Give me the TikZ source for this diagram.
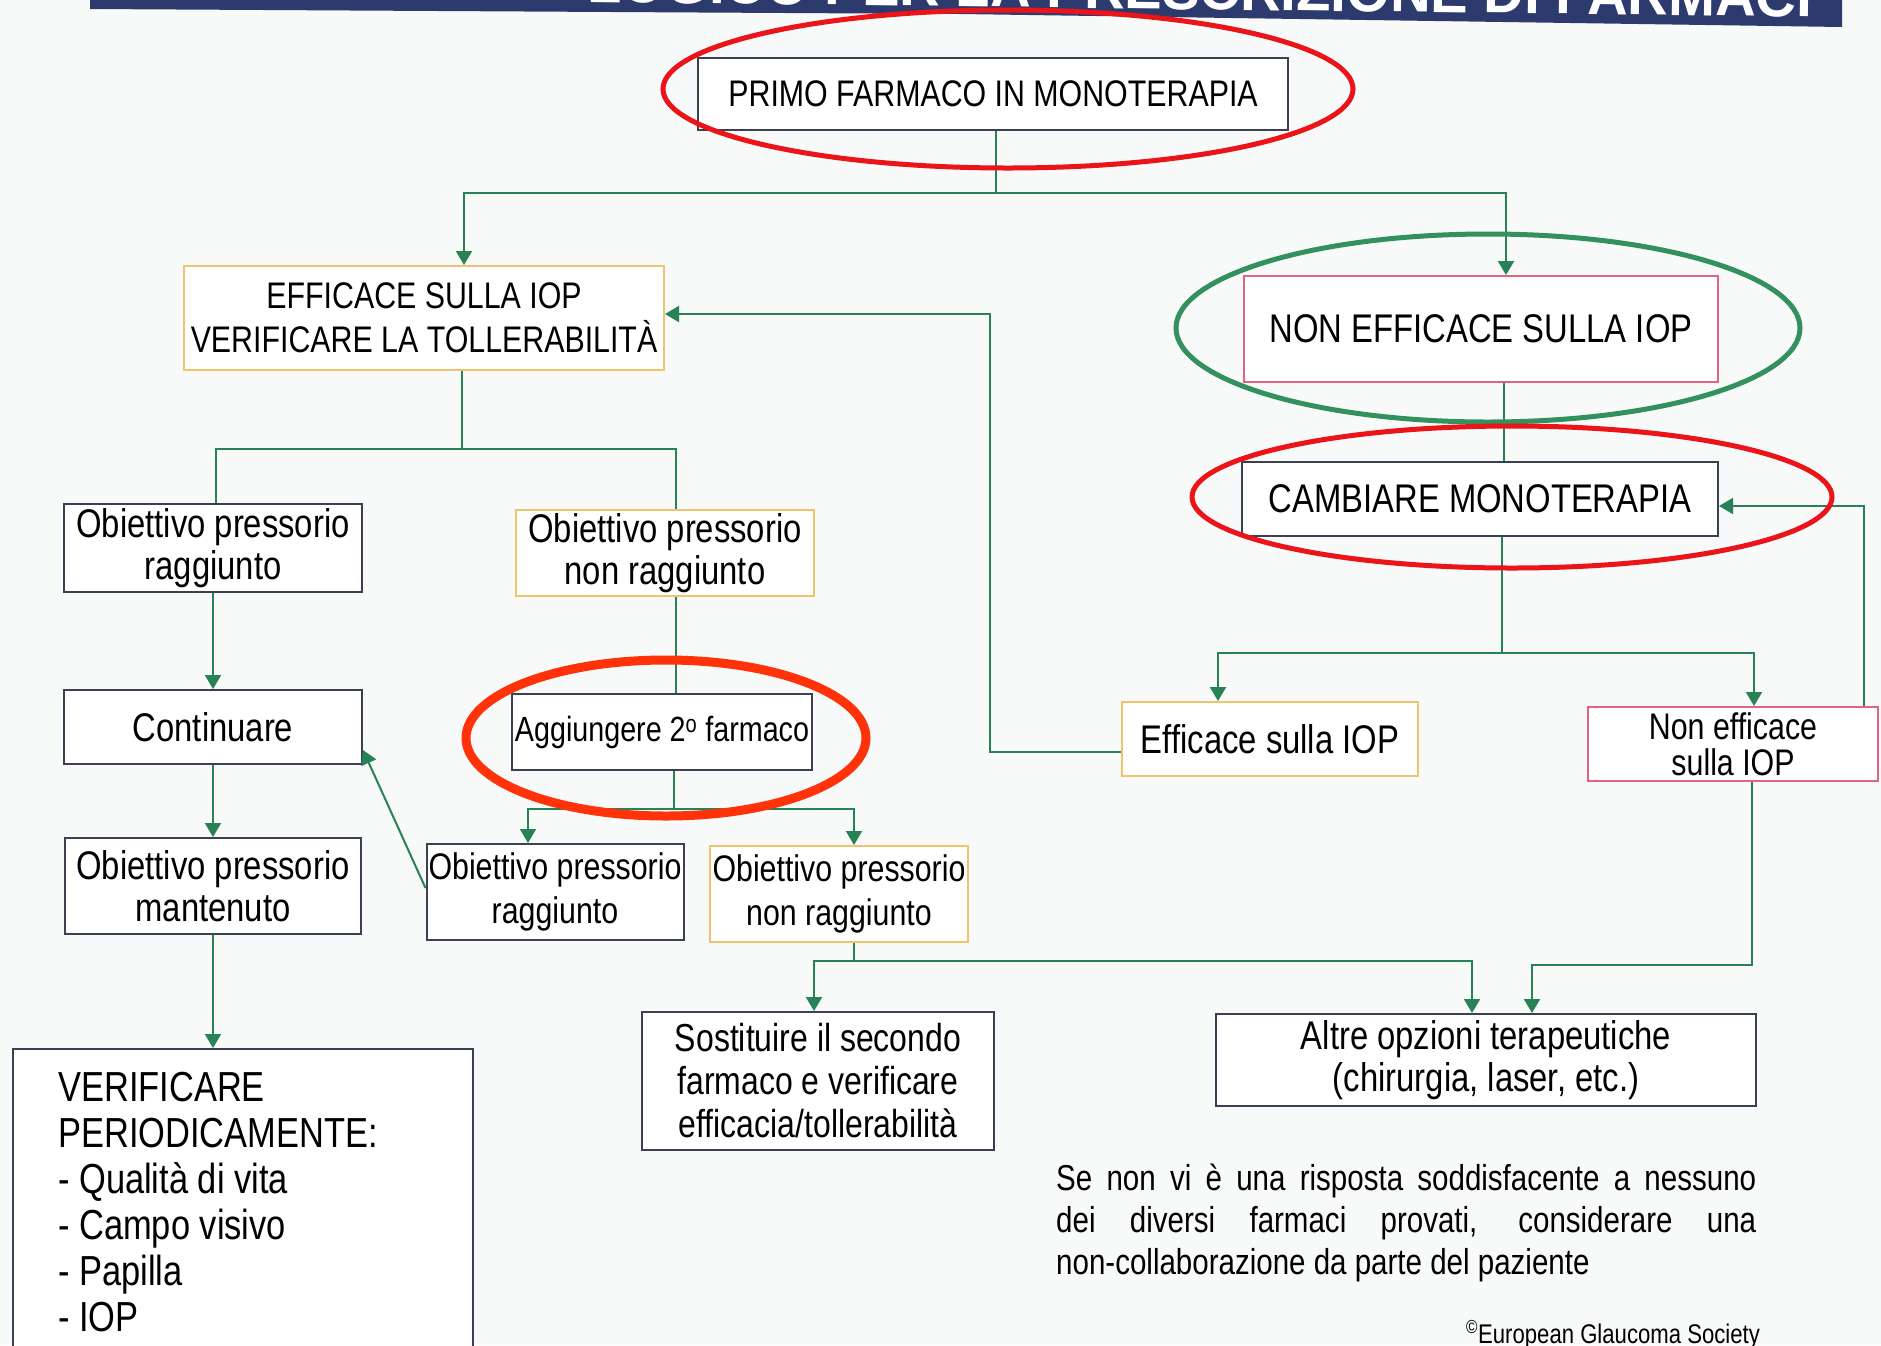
\documentclass[tikz,border=0pt]{standalone}
\usepackage{graphicx}
\usepackage{fontspec}
\setmainfont[FakeStretch=0.82]{Liberation Sans}
\usetikzlibrary{arrows.meta,calc}
\definecolor{bgc}{RGB}{247,250,248}
\definecolor{connc}{RGB}{40,130,85}
\definecolor{boxd}{RGB}{60,64,82}
\definecolor{boxo}{RGB}{240,196,110}
\definecolor{boxp}{RGB}{226,100,130}
\definecolor{ered}{RGB}{235,20,25}
\definecolor{egreen}{RGB}{50,145,95}
\definecolor{eorange}{RGB}{255,50,10}
\definecolor{bannerc}{RGB}{45,58,110}
\newcommand\fsz[2]{\fontsize{#1}{#2}\selectfont}
\begin{document}
\begin{tikzpicture}[x=1pt,y=-1pt,
  bx/.style={draw=boxd,line width=2pt,fill=white,inner sep=0pt,align=center,font=\fsz{40}{42}},
  bxo/.style={bx,draw=boxo},
  bxp/.style={bx,draw=boxp},
  ln/.style={draw=connc,line width=2pt},
  ar/.style={ln,-{Triangle[width=16pt,length=14pt]}},
  ov/.style={line width=5pt}]

\fill[bgc] (0,0) rectangle (1881,1345);
\useasboundingbox (0,0) rectangle (1881,1345);

% banner
\fill[bannerc] (90,0) -- (1842,0) -- (1842,27) -- (960,14) -- (90,9) -- cycle;
\begin{scope}
  \clip (90,0) -- (1842,0) -- (1842,27) -- (960,14) -- (90,9) -- cycle;
  \node[anchor=base east,inner sep=0pt,text=white,rotate=-0.7] (title) at (1812,17)
    {\resizebox{1224pt}{40pt}{\bfseries LOGICO PER LA PRESCRIZIONE DI FARMACI}};
\end{scope}

% boxes
\node[bx,minimum width=590,minimum height=72,font=\fsz{37}{42}] (primo) at (993,94) {PRIMO FARMACO IN MONOTERAPIA};
\node[bxo,minimum width=480,minimum height=104,font=\fsz{37}{44}] (effA) at (424,318) {EFFICACE SULLA IOP\\VERIFICARE LA TOLLERABILIT\`A};
\node[bxp,minimum width=474,minimum height=106] (nonA) at (1481,329) {NON EFFICACE SULLA IOP};
\node[bx,minimum width=476,minimum height=74] (camb) at (1480,499) {CAMBIARE MONOTERAPIA};

\node[bx,minimum width=298,minimum height=88] (r1) at (213,548) {Obiettivo pressorio\\raggiunto};
\node[bxo,minimum width=298,minimum height=86] (nr1) at (665,553) {Obiettivo pressorio\\non raggiunto};
\node[bx,minimum width=298,minimum height=74] (cont) at (213,727) {Continuare};
\node[bx,minimum width=300,minimum height=76,font=\fsz{35}{40}] (aggi) at (662,732) {Aggiungere 2\textsuperscript{o} farmaco};
\node[bxo,minimum width=296,minimum height=74] (effB) at (1270,739) {Efficace sulla IOP};
\node[bxp,minimum width=290,minimum height=74,font=\fsz{37}{36}] (nonB) at (1733,744) {Non efficace\\sulla IOP};

\node[bx,minimum width=296,minimum height=96] (mant) at (213,886) {Obiettivo pressorio\\mantenuto};
\node[bx,minimum width=257,minimum height=96,font=\fsz{37}{44}] (r2) at (555,892) {Obiettivo pressorio\\raggiunto};
\node[bxo,minimum width=258,minimum height=96,font=\fsz{37}{44}] (nr2) at (839,894) {Obiettivo pressorio\\non raggiunto};
\node[bx,minimum width=352,minimum height=138,font=\fsz{39}{43}] (sost) at (818,1081) {Sostituire il secondo\\farmaco e verificare\\efficacia/tollerabilit\`a};
\node[bx,minimum width=540,minimum height=92] (altre) at (1486,1060) {Altre opzioni terapeutiche\\(chirurgia, laser, etc.)};

\node[bx,minimum width=460,minimum height=320,anchor=north west] (verif) at (12,1048) {};
\node[anchor=north west,inner sep=0pt,align=left,font=\fsz{42}{46}] (veriftxt) at (58,1072)
  {VERIFICARE\\PERIODICAMENTE:\\- Qualit\`a di vita\\- Campo visivo\\- Papilla\\- IOP};

\node[anchor=north west,inner sep=0pt,align=left,font=\fsz{36}{42}] (note) at (1056,1164)
  {\makebox[700pt][s]{Se non vi \`e una risposta soddisfacente a nessuno}\\
   \makebox[700pt][s]{dei diversi farmaci provati, considerare una}\\
   non-collaborazione da parte del paziente};

\node[anchor=base west,inner sep=0pt,font=\fsz{27}{29}] (copy) at (1466,1343) {\textsuperscript{\textcopyright}European Glaucoma Society};

% connectors
\draw[ln] ([xshift=3]primo.south) -- ++(0,62) coordinate (j1);
\draw[ar] (j1) -| ([xshift=40]effA.north);
\draw[ar] (j1) -| ([xshift=25]nonA.north);

\draw[ln] ([xshift=38]effA.south) -- ++(0,78) coordinate (j2);
\draw[ln] (j2) -| ([xshift=3]r1.north);
\draw[ln] (j2) -| ([xshift=11]nr1.north);

\draw[ar] (r1.south) -- (cont.north);
\draw[ar] (cont.south) -- (mant.north);
\draw[ar] (mant.south) -- (mant.south |- verif.north);

\draw[ln] ([xshift=11]nr1.south) -- ([xshift=14]aggi.north);
\draw[ln] ([xshift=12]aggi.south) -- ++(0,38) coordinate (j3);
\draw[ar] (j3) -| ([xshift=-27]r2.north);
\draw[ar] (j3) -| ([xshift=15]nr2.north);

\draw[ar] ([yshift=4]r2.west) -- ([yshift=-23]cont.east);

\draw[ln] ([xshift=15]nr2.south) -- ++(0,18) coordinate (j4);
\draw[ar] (j4) -| ([xshift=-4]sost.north);
\draw[ar] (j4) -| ([xshift=-14]altre.north);
\draw[ar] ([xshift=19]nonB.south) -- ++(0,183) -| ([xshift=46]altre.north);

\draw[ln] ([xshift=23]nonA.south) -- ([xshift=24]camb.north);
\draw[ln] ([xshift=22]camb.south) -- ++(0,116) coordinate (j6);
\draw[ar] (j6) -| ([xshift=-52]effB.north);
\draw[ar] (j6) -| ([xshift=21]nonB.north);
\draw[ar] ([xshift=131]nonB.north) |- ([yshift=-7]camb.east);

\draw[ar] ([yshift=-13]effB.west) -- ++(-131,0) |- ([yshift=4]effA.east);

% highlight ellipses
\draw[ov,ered] (1008,89) ellipse [x radius=345,y radius=79];
\draw[ov,egreen] (1488,328) ellipse [x radius=312,y radius=94];
\draw[ov,ered] (1512,497) ellipse [x radius=320,y radius=71];
\draw[line width=9pt,eorange] (666,738) ellipse [x radius=200,y radius=78];
\end{tikzpicture}
\end{document}
